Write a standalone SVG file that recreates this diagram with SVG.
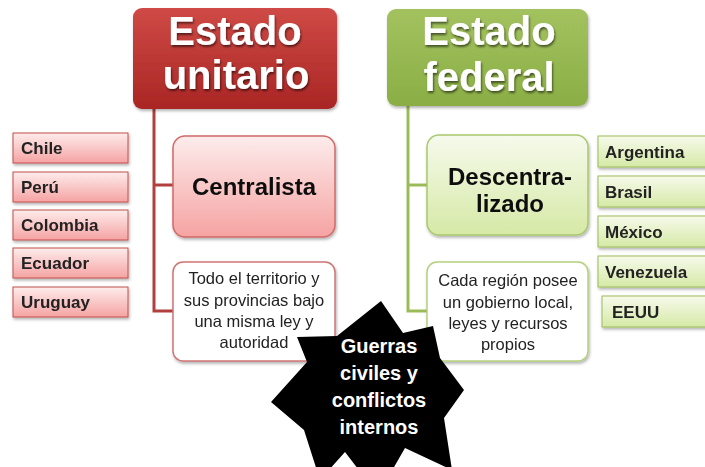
<svg xmlns="http://www.w3.org/2000/svg" width="705" height="467" viewBox="0 0 705 467">
<defs>
<linearGradient id="gRedHead" x1="0" y1="0" x2="0" y2="1"><stop offset="0" stop-color="#cf4a46"/><stop offset="1" stop-color="#a92624"/></linearGradient>
<linearGradient id="gGreenHead" x1="0" y1="0" x2="0" y2="1"><stop offset="0" stop-color="#a3c25f"/><stop offset="1" stop-color="#8aae45"/></linearGradient>
<linearGradient id="gPink" x1="0" y1="0" x2="0" y2="1"><stop offset="0" stop-color="#fdecec"/><stop offset="1" stop-color="#f5a3a2"/></linearGradient>
<linearGradient id="gLime" x1="0" y1="0" x2="0" y2="1"><stop offset="0" stop-color="#f6faec"/><stop offset="1" stop-color="#d6e9a6"/></linearGradient>
<filter id="sh" x="-10%" y="-10%" width="130%" height="140%"><feDropShadow dx="1" dy="2" stdDeviation="1.5" flood-color="#000" flood-opacity="0.3"/></filter>
<filter id="tsh" x="-10%" y="-10%" width="130%" height="140%"><feDropShadow dx="1" dy="2" stdDeviation="1" flood-color="#000" flood-opacity="0.55"/></filter>
</defs>
<style>
.head{font-family:"Liberation Sans",Arial,sans-serif;font-weight:bold;font-size:40px;fill:#fff;text-anchor:middle}
.mid{font-family:"Liberation Sans",Arial,sans-serif;font-weight:bold;font-size:24px;fill:#111;text-anchor:middle}
.desc{font-family:"Liberation Sans",Arial,sans-serif;font-size:16.5px;fill:#222;text-anchor:middle}
.ctry{font-family:"Liberation Sans",Arial,sans-serif;font-weight:bold;font-size:17px;fill:#222}
.star{font-family:"Liberation Sans",Arial,sans-serif;font-weight:bold;font-size:20px;fill:#fff;text-anchor:middle}
.cr{fill:url(#gPink);stroke:#c0504d;stroke-width:1}
.cg{fill:url(#gLime);stroke:#9bbb59;stroke-width:1}
.lr{fill:none;stroke:#b0403e;stroke-width:3}
.lg{fill:none;stroke:#9bbb59;stroke-width:3}
</style>
<rect width="705" height="467" fill="#fff"/>

<g id="connectors">
<path class="lr" d="M154 108 V311 H174 M154 185 H174"/>
<path class="lg" d="M408 104 V311 H428 M408 185 H428"/>
</g>

<g id="estado-unitario" filter="url(#sh)">
<rect x="133" y="8" width="204" height="101" rx="9" fill="url(#gRedHead)"/>
<g filter="url(#tsh)"><text class="head" x="235" y="45">Estado</text><text class="head" x="236" y="89">unitario</text></g>
</g>
<g id="estado-federal" filter="url(#sh)">
<rect x="387" y="9" width="201" height="97" rx="9" fill="url(#gGreenHead)"/>
<g filter="url(#tsh)"><text class="head" x="489" y="45">Estado</text><text class="head" x="489" y="91">federal</text></g>
</g>

<g id="centralista" filter="url(#sh)">
<rect x="173" y="136" width="162" height="101" rx="12" fill="url(#gPink)" stroke="#d06a68" stroke-width="1.5"/>
<text class="mid" x="254" y="195">Centralista</text>
</g>
<g id="descentralizado" filter="url(#sh)">
<rect x="427" y="135" width="161" height="100" rx="12" fill="url(#gLime)" stroke="#a9c86e" stroke-width="1.5"/>
<text class="mid" x="510" y="185">Descentra-</text>
<text class="mid" x="510" y="212">lizado</text>
</g>

<g id="todo-territorio" filter="url(#sh)">
<rect x="173" y="262" width="162" height="99" rx="10" fill="#fff" stroke="#d07474" stroke-width="1.5"/>
<text class="desc" x="254" y="284">Todo el territorio y</text>
<text class="desc" x="254" y="306">sus provincias bajo</text>
<text class="desc" x="254" y="327">una misma ley y</text>
<text class="desc" x="254" y="348">autoridad</text>
</g>
<g id="cada-region" filter="url(#sh)">
<rect x="427" y="262" width="161" height="99" rx="10" fill="#fff" stroke="#b5d07e" stroke-width="1.5"/>
<text class="desc" x="508" y="286">Cada región posee</text>
<text class="desc" x="508" y="308">un gobierno local,</text>
<text class="desc" x="508" y="329">leyes y recursos</text>
<text class="desc" x="508" y="350">propios</text>
</g>

<g id="chile" filter="url(#sh)"><rect class="cr" x="13" y="133" width="115" height="30"/><text class="ctry" x="21" y="154">Chile</text></g>
<g id="peru" filter="url(#sh)"><rect class="cr" x="13" y="172" width="115" height="30"/><text class="ctry" x="21" y="193">Perú</text></g>
<g id="colombia" filter="url(#sh)"><rect class="cr" x="13" y="210" width="115" height="30"/><text class="ctry" x="21" y="231">Colombia</text></g>
<g id="ecuador" filter="url(#sh)"><rect class="cr" x="13" y="248" width="115" height="30"/><text class="ctry" x="21" y="269">Ecuador</text></g>
<g id="uruguay" filter="url(#sh)"><rect class="cr" x="13" y="287" width="115" height="30"/><text class="ctry" x="21" y="308">Uruguay</text></g>

<g id="argentina" filter="url(#sh)"><rect class="cg" x="598" y="136" width="112" height="31"/><text class="ctry" x="605" y="158">Argentina</text></g>
<g id="brasil" filter="url(#sh)"><rect class="cg" x="598" y="176" width="112" height="31"/><text class="ctry" x="605" y="198">Brasil</text></g>
<g id="mexico" filter="url(#sh)"><rect class="cg" x="598" y="216" width="112" height="31"/><text class="ctry" x="605" y="238">México</text></g>
<g id="venezuela" filter="url(#sh)"><rect class="cg" x="598" y="256" width="112" height="31"/><text class="ctry" x="605" y="278">Venezuela</text></g>
<g id="eeuu" filter="url(#sh)"><rect class="cg" x="602" y="296" width="112" height="31"/><text class="ctry" x="612" y="318">EEUU</text></g>

<g id="guerras">
<polygon fill="#000" points="381,301 403,333 433,326 440,358 464,390 444,418 452,470 405,448 378,495 345,452 320,480 304,430 271,402 307,362 297,337 337,336"/>
<text class="star" x="379" y="353">Guerras</text>
<text class="star" x="379" y="380">civiles y</text>
<text class="star" x="379" y="407">conflictos</text>
<text class="star" x="379" y="434">internos</text>
</g>
</svg>
